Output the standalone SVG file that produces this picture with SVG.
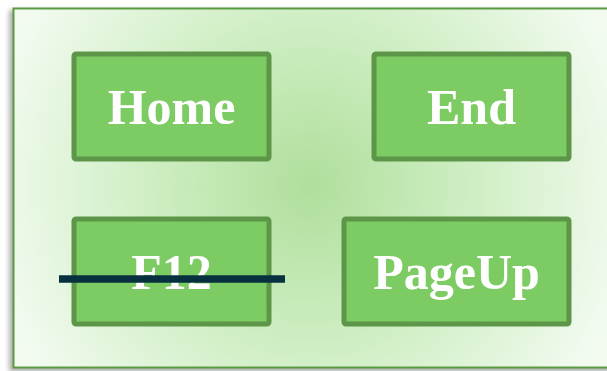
<svg xmlns="http://www.w3.org/2000/svg" width="607" height="371" viewBox="0 0 607 371">
  <defs>
    <radialGradient id="bg" cx="310" cy="185" r="330" gradientUnits="userSpaceOnUse">
      <stop offset="0" stop-color="#afdf9c"/>
      <stop offset="0.45" stop-color="#ccedc0"/>
      <stop offset="1" stop-color="#f3fbf1"/>
    </radialGradient>
    <filter id="sh" x="-5%" y="-5%" width="110%" height="110%">
      <feGaussianBlur stdDeviation="2.5"/>
    </filter>
    <style>
      .key rect { fill: #7dcb63; stroke: #5d9648; stroke-width: 5; }
      .key text { font-family: "Liberation Serif", "DejaVu Serif", serif; font-weight: bold; font-size: 50px; fill: #ffffff; text-anchor: middle; }
    </style>
  </defs>
  <rect x="0" y="0" width="607" height="371" fill="#ffffff"/>
  <rect x="9" y="10" width="610" height="362" fill="#b0b0b0" filter="url(#sh)"/>
  <rect x="13.5" y="8.5" width="600" height="359" fill="url(#bg)" stroke="#5a9a40" stroke-width="2"/>
  <g id="home" class="key">
    <rect x="74" y="54" width="195" height="105" rx="2"/>
    <text x="171.5" y="124">Home</text>
  </g>
  <g id="end" class="key">
    <rect x="374" y="54" width="195" height="105" rx="2"/>
    <text x="471.5" y="124">End</text>
  </g>
  <g id="f12" class="key">
    <rect x="74" y="219" width="195" height="105" rx="2"/>
    <text x="171.5" y="289">F12</text>
  </g>
  <g id="pageup" class="key">
    <rect x="344" y="219" width="225" height="105" rx="2"/>
    <text x="456.5" y="289">PageUp</text>
  </g>
  <g id="connectors">
    <line x1="59" y1="279" x2="285" y2="279" stroke="#07313f" stroke-width="7.5"/>
  </g>
</svg>
